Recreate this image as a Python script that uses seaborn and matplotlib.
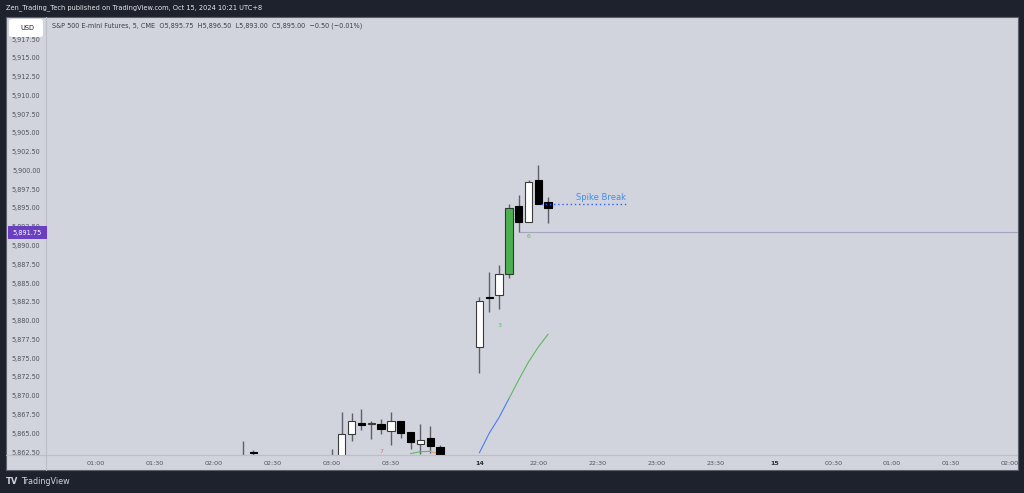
import numpy as np
import pandas as pd
import matplotlib
matplotlib.use("Agg")
import matplotlib.pyplot as plt
import seaborn as sns
from matplotlib.patches import Rectangle, FancyBboxPatch
from matplotlib.lines import Line2D

# candles (5 min bars, x = bar index from the 01:00 tick)
bar_idx = [15, 16, 24, 25, 26, 27, 28, 29, 30, 31, 32, 33, 34, 35,
           39, 40, 41, 42, 43, 44, 45, 46]
opens = [5861.0, 5862.55, 5860.0, 5860.5, 5864.9, 5866.4, 5866.2, 5866.2, 5865.35, 5866.7, 5865.2, 5863.6, 5864.4, 5863.2,
         5876.45, 5883.2, 5883.4, 5886.2, 5895.2, 5893.1, 5898.7, 5895.75]
highs = [5864.0, 5862.8, 5862.9, 5867.9, 5867.7, 5868.2, 5866.7, 5866.9, 5867.9, 5866.7, 5865.2, 5866.2, 5866.0, 5863.45,
         5883.2, 5886.5, 5887.4, 5895.5, 5896.7, 5898.7, 5900.7, 5896.5]
lows = [5859.5, 5861.5, 5859.0, 5860.0, 5864.0, 5865.4, 5864.2, 5864.95, 5863.4, 5864.4, 5862.9, 5862.3, 5862.4, 5860.5,
        5873.0, 5881.2, 5881.5, 5885.7, 5891.75, 5893.1, 5895.5, 5893.0]
closes = [5860.5, 5862.35, 5861.0, 5864.9, 5866.7, 5866.1, 5866.2, 5865.6, 5866.7, 5865.1, 5863.9, 5864.15, 5863.35, 5861.0,
          5882.6, 5882.95, 5886.2, 5895.0, 5893.1, 5898.4, 5895.5, 5895.0]
highlight_bar = 42

# moving average line pieces
ma_blue_x = [39, 40, 41, 42]
ma_blue_y = [5862.4, 5865.0, 5867.1, 5869.6]
ma_green_x = [42, 43, 44, 45, 46]
ma_green_y = [5869.6, 5872.1, 5874.5, 5876.5, 5878.2]
low_green_x = [32, 33, 34]
low_green_y = [5862.3, 5862.55, 5862.6]
low_orange_x = [34, 35]
low_orange_y = [5862.6, 5862.2]

# annotations
count_labels = [("3", 41, 5879.4, "#5fb860"), ("6", 44, 5891.2, "#5fb860"), ("7", 29, 5862.6, "#ef6b6b")]
last_price = 5891.75
spike_level = 5895.5

xtick_pos = [0, 6, 12, 18, 24, 30, 39, 45, 51, 57, 63, 69, 75, 81, 87, 93]
xtick_labels = ["01:00", "01:30", "02:00", "02:30", "03:00", "03:30", "14", "22:00", "22:30",
                "23:00", "23:30", "15", "00:30", "01:00", "01:30", "02:00"]
ytick_vals = np.arange(5862.5, 5918.0, 2.5)

W, H = 1024, 493
BG = "#1e222d"
PANEL = "#d1d4dc"
TXT = "#50535e"

sns.set_style("white")
plt.rcParams['font.family'] = ['DejaVu Sans']


def fx(x):
    return x / W


def fy(y):
    return (H - y) / H


fig = plt.figure(figsize=(W / 100, H / 100), dpi=100)
fig.patch.set_facecolor(BG)

# light panel behind everything
fig.add_artist(Rectangle((fx(6), fy(470)), (1012) / W, 453 / H, transform=fig.transFigure,
                         facecolor=PANEL, edgecolor="#5d606b", linewidth=0.8, zorder=0))

ax = fig.add_axes([fx(46), fy(455), 972 / W, 438 / H])
ax.set_facecolor("none")
for s in ax.spines.values():
    s.set_visible(False)

df = pd.DataFrame({"i": bar_idx, "o": opens, "h": highs, "l": lows, "c": closes})
df["up"] = df["c"] >= df["o"]

# wicks
ax.vlines(df["i"], df["l"], df["h"], color="#5d606b", linewidth=1.0, zorder=2)

# bodies
for _, r in df.iterrows():
    bottom = min(r.o, r.c)
    height = max(abs(r.c - r.o), 0.12)
    if r.i == highlight_bar:
        fc, ec = "#4caf50", "#2f3a2f"
    elif r.up:
        fc, ec = "#ffffff", "#3a3a3a"
    else:
        fc, ec = "#000000", "#000000"
    ax.bar(r.i, height, bottom=bottom, width=0.75, color=fc, edgecolor=ec, linewidth=0.8, zorder=3)

# ma line
sns.lineplot(x=ma_blue_x, y=ma_blue_y, ax=ax, color="#4c7cf3", linewidth=0.8, zorder=2)
sns.lineplot(x=ma_green_x, y=ma_green_y, ax=ax, color="#5fb860", linewidth=0.8, zorder=2)
sns.lineplot(x=low_green_x, y=low_green_y, ax=ax, color="#5fb860", linewidth=0.8, zorder=2)
sns.lineplot(x=low_orange_x, y=low_orange_y, ax=ax, color="#f0a040", linewidth=0.8, zorder=2)

# last price line
ax.hlines(last_price, 43, 100, color="#a5a3bd", linewidth=0.8, zorder=1)

# spike break
ax.hlines(spike_level, 45.3, 54.1, color="#2962ff", linewidth=1.0, linestyles=(0, (1, 2)), zorder=4)
ax.text(51.4, 5896.4, "Spike Break", color="#3d8ef0", fontsize=6, ha="center", va="center")

for t, xi, yv, col in count_labels:
    ax.text(xi, yv, t, color=col, fontsize=4.5, ha="center", va="center")

ax.set_xlim(-5.09, 93.8)
ax.set_ylim(5862.11, 5920.43)
ax.set_yticks(ytick_vals)
ax.set_yticklabels([f"{v:,.2f}" for v in ytick_vals])
ax.set_xticks(xtick_pos)
ax.set_xticklabels(xtick_labels)
ax.tick_params(axis="y", length=0, pad=4, labelsize=4.7, labelcolor=TXT)
ax.tick_params(axis="x", length=0, pad=4, labelsize=4.6, labelcolor=TXT)
for lab in ax.get_xticklabels():
    if lab.get_text() in ("14", "15"):
        lab.set_fontweight("bold")
        lab.set_color("#2a2e39")
ax.set_xlabel("")
ax.set_ylabel("")

# axis strip dividers
fig.add_artist(Line2D([fx(46), fx(46)], [fy(470), fy(17)], transform=fig.transFigure,
                      color="#bcbfc8", linewidth=0.8))
fig.add_artist(Line2D([fx(6), fx(1017)], [fy(455), fy(455)], transform=fig.transFigure,
                      color="#bcbfc8", linewidth=0.8))

# purple price tag
fig.add_artist(Rectangle((fx(8), fy(239)), 39 / W, 13 / H, transform=fig.transFigure,
                         facecolor="#6a3fc0", edgecolor="none", zorder=5))
fig.text(fx(27.5), fy(232.5), "5,891.75", color="white", fontsize=4.8, ha="center", va="center", zorder=6)

# USD box (covers most of the top tick label, as in the original)
fig.add_artist(FancyBboxPatch((fx(9), fy(37)), 34 / W, 18 / H, boxstyle="round,pad=0,rounding_size=0.004",
                              transform=fig.transFigure, facecolor="white", edgecolor="none", zorder=5))
fig.text(fx(20), fy(27.5), "USD", color="#131722", fontsize=4.8, ha="left", va="center", zorder=6)

# header texts
fig.text(fx(6), fy(8), "Zen_Trading_Tech published on TradingView.com, Oct 15, 2024 10:21 UTC+8",
         color="#e8e9ed", fontsize=4.8, ha="left", va="center")
fig.text(fx(52), fy(26), "S&P 500 E-mini Futures, 5, CME  O5,895.75  H5,896.50  L5,893.00  C5,895.00  \u22120.50 (\u22120.01%)",
         color="#3a3e4a", fontsize=4.7, ha="left", va="center")

# footer logo
fig.text(fx(6), fy(481), "TV", color="#d1d4dc", fontsize=6, fontweight="bold", ha="left", va="center")
fig.text(fx(21), fy(481), "TradingView", color="#d1d4dc", fontsize=5.8, ha="left", va="center")

fig.savefig("out.png", dpi=100, facecolor=fig.get_facecolor())
